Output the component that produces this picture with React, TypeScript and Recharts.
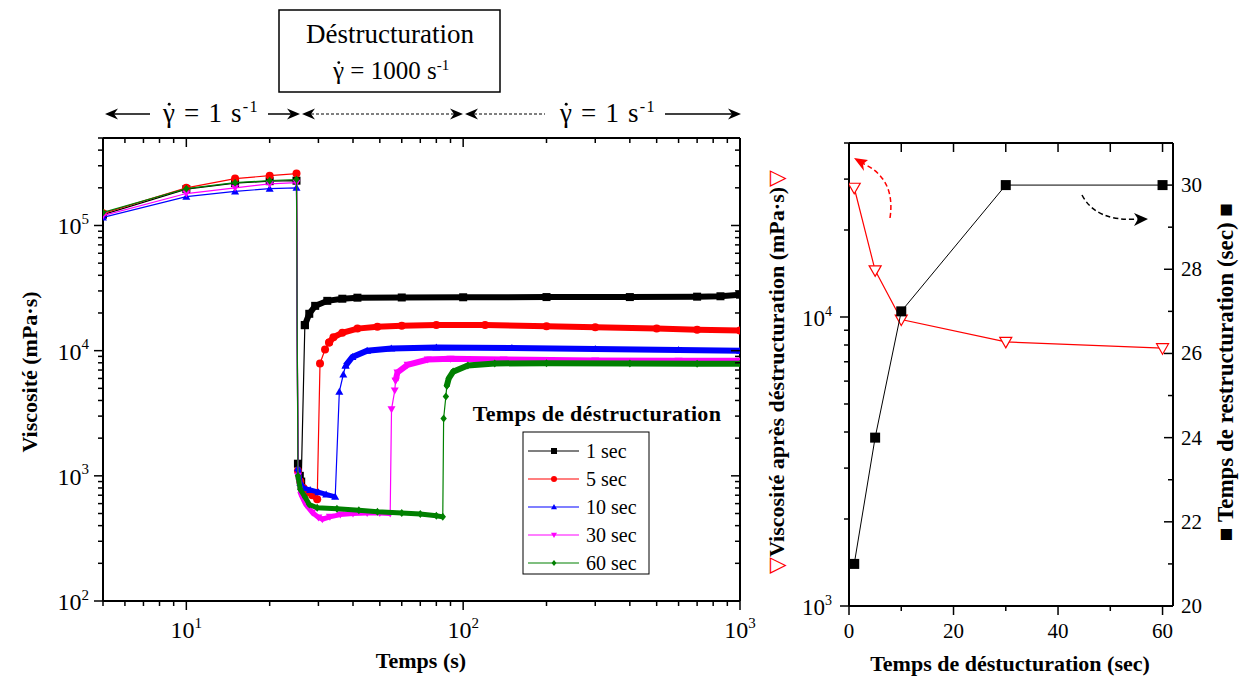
import React from "react";
import { ComposedChart, Scatter, XAxis, YAxis } from "recharts";

const SERIF = '"Liberation Serif", "Times New Roman", serif';

// ---------- panneau gauche : viscosité vs temps ----------
const timeTicks = [5, 6, 7, 8, 9, 10, 20, 30, 40, 50, 60, 70, 80, 90, 100, 200, 300, 400, 500, 600, 700, 800, 900, 1000];
const viscTicks = [
  100, 200, 300, 400, 500, 600, 700, 800, 900,
  1000, 2000, 3000, 4000, 5000, 6000, 7000, 8000, 9000,
  10000, 20000, 30000, 40000, 50000, 60000, 70000, 80000, 90000,
  100000, 200000, 300000, 400000, 500000,
];

const serieNames = ["1 sec", "5 sec", "10 sec", "30 sec", "60 sec"];
const serieColors = ["#000000", "#ff0000", "#0000ff", "#ff00ff", "#008000"];
const serieShapes = ["square", "circle", "up", "down", "diamond"];

// [temps (s), viscosité (mPa·s)] — gamma = 1 s-1 avant déstructuration
const pre1 = [[5, 122000], [10, 195000], [15, 218000], [20, 226000], [25, 228000]];
const pre5 = [[5, 125000], [10, 200000], [15, 237000], [20, 250000], [25, 260000]];
const pre10 = [[5, 116000], [10, 170000], [15, 187000], [20, 197000], [25, 200000]];
const pre30 = [[5, 120000], [10, 180000], [15, 200000], [20, 215000], [25, 220000]];
const pre60 = [[5, 127000], [10, 197000], [15, 220000], [20, 228000], [25, 233000]];

// déstructuration, gamma = 1000 s-1
const des1 = [[25.3, 1250], [25.7, 1000], [26.0, 900]];
const des5 = [[25.3, 1100], [25.8, 900], [26.5, 800], [27.5, 740], [28.5, 700], [29.7, 650]];
const des10 = [[25.3, 1150], [25.8, 880], [26.5, 800], [28, 770], [30, 740], [32, 710], [34.5, 680]];
const des30 = [[25.3, 1000], [26, 700], [27, 590], [28.5, 510], [30, 465], [31, 450], [33, 470], [36, 490], [40, 500], [45, 505], [50, 505], [54.5, 500]];
const des60 = [[25.3, 1000], [25.8, 780], [26.9, 670], [27.8, 590], [29.7, 555], [35, 545], [42, 530], [49, 516], [60, 505], [70, 495], [80, 480], [84.4, 470]];

// remontée (points isolés)
const jmp1 = [[26.8, 16000]];
const jmp5 = [[30.4, 7900], [31.7, 10200], [32.8, 11600]];
const jmp10 = [[35.7, 4700], [36.9, 6450], [37.6, 7600]];
const jmp30 = [[55.1, 3400], [56.6, 4800], [57, 5760]];
const jmp60 = [[85, 2870], [86.6, 4300], [87.3, 5250]];

// restructuration, gamma = 1 s-1
const rec1 = [[26.8, 16000], [27.8, 19700], [29.2, 22800], [32.3, 25000], [36.6, 26000], [41.5, 26500], [60, 26600], [100, 26700], [200, 26800], [400, 26800], [700, 27000], [850, 27200], [1000, 28000]];
const rec5 = [[32.8, 11600], [34, 12800], [36.6, 13900], [41.5, 15000], [49, 15500], [60, 15800], [80, 16000], [120, 16000], [200, 15700], [300, 15400], [500, 15000], [700, 14700], [1000, 14500]];
const rec10 = [[37.6, 7600], [39.8, 8900], [45, 10000], [55, 10400], [80, 10600], [150, 10500], [300, 10300], [600, 10100], [1000, 10000]];
const rec30 = [[57, 5760], [57.9, 6700], [63, 7700], [74.5, 8500], [90, 8600], [140, 8500], [300, 8350], [600, 8300], [1000, 8300]];
const rec60 = [[87.3, 5250], [88.7, 6000], [92, 6800], [104, 7600], [130, 7900], [200, 7950], [400, 7900], [700, 7850], [1000, 7850]];

// ---------- panneau droit ----------
const destTimes = [1, 5, 10, 30, 60];
const viscAfter = [28000, 14500, 9800, 8200, 7800];
const restTimes = [21, 24, 27, 30, 30];
const destTicks = [0, 10, 20, 30, 40, 50, 60];
const destTopTicks = [10, 20, 30, 40, 50, 60];
const viscAfterTicks = [1000, 2000, 3000, 4000, 5000, 6000, 7000, 8000, 9000, 10000, 20000, 30000, 40000];
const restTicks = [20, 21, 22, 23, 24, 25, 26, 27, 28, 29, 30];

const toPts = (a: number[][]) => a.map(([t, v]) => ({ t, v }));
const pres = [pre1, pre5, pre10, pre30, pre60];
const dess = [des1, des5, des10, des30, des60];
const jmps = [jmp1, jmp5, jmp10, jmp30, jmp60];
const recs = [rec1, rec5, rec10, rec30, rec60];

const curves = serieNames.map((name, i) => ({
  name,
  color: serieColors[i],
  shape: serieShapes[i],
  all: toPts([...pres[i], ...dess[i], ...jmps[i], ...recs[i]]),
  des: toPts(dess[i]),
  rec: toPts(recs[i]),
}));

const rightRows = destTimes.map((d, i) => ({ d, visc: viscAfter[i], rest: restTimes[i] }));

function Marker({ kind, cx, cy, size, color, hollow = false }: any) {
  if (cx == null || cy == null) return <g />;
  const h = size / 2;
  const fill = hollow ? "#fff" : color;
  const sw = hollow ? 1.2 : 0;
  switch (kind) {
    case "square":
      return <rect x={cx - h} y={cy - h} width={size} height={size} fill={fill} stroke={color} strokeWidth={sw} />;
    case "circle":
      return <circle cx={cx} cy={cy} r={h} fill={fill} stroke={color} strokeWidth={sw} />;
    case "up":
      return <path d={`M${cx},${cy - h}L${cx + h},${cy + h * 0.75}L${cx - h},${cy + h * 0.75}Z`} fill={fill} stroke={color} strokeWidth={sw} />;
    case "down":
      return <path d={`M${cx},${cy + h}L${cx + h},${cy - h * 0.75}L${cx - h},${cy - h * 0.75}Z`} fill={fill} stroke={color} strokeWidth={sw} />;
    default:
      return <path d={`M${cx},${cy - h}L${cx + h * 0.8},${cy}L${cx},${cy + h}L${cx - h * 0.8},${cy}Z`} fill={fill} stroke={color} strokeWidth={sw} />;
  }
}

const isPow10 = (v: number) => Math.abs(Math.log10(v) - Math.round(Math.log10(v))) < 1e-9;

const powLabel = (v: number, sup: number) => (
  <>
    <tspan>10</tspan>
    <tspan dy={-sup * 0.7} fontSize={sup}>{Math.round(Math.log10(v))}</tspan>
  </>
);

function makeTick(cfg: any) {
  return (p: any) => {
    const { x, y, payload } = p;
    const v = payload.value;
    const major = cfg.isMajor(v);
    const len = major ? cfg.majorLen : cfg.minorLen;
    let dx = 0;
    let dy = 0;
    if (cfg.side === "bottom") dy = cfg.inward ? -len : len;
    if (cfg.side === "top") dy = cfg.inward ? len : -len;
    if (cfg.side === "left") dx = cfg.inward ? len : -len;
    if (cfg.side === "right") dx = cfg.inward ? -len : len;
    let label = null;
    if (major && cfg.label) {
      const fs = cfg.fontSize;
      if (cfg.side === "bottom")
        label = <text x={x} y={y + cfg.offset} textAnchor="middle" fontSize={fs} fontFamily={SERIF} fill="#000">{cfg.label(v)}</text>;
      else if (cfg.side === "left")
        label = <text x={x - cfg.offset} y={y + cfg.dyLabel} textAnchor="end" fontSize={fs} fontFamily={SERIF} fill="#000">{cfg.label(v)}</text>;
      else if (cfg.side === "right")
        label = <text x={x + cfg.offset} y={y + cfg.dyLabel} textAnchor="start" fontSize={fs} fontFamily={SERIF} fill="#000">{cfg.label(v)}</text>;
    }
    return (
      <g>
        <line x1={x} y1={y} x2={x + dx} y2={y + dy} stroke="#000" strokeWidth={1.5} />
        {label}
      </g>
    );
  };
}

const axisLine = { stroke: "#000", strokeWidth: 2 };
const noDot = () => <g />;

function ViscosityChart() {
  return (
    <ComposedChart width={760} height={681} margin={{ top: 128, right: 10, bottom: 40, left: 43 }}>
      <XAxis xAxisId="b" dataKey="t" type="number" scale="log" domain={[5, 1000]} allowDataOverflow ticks={timeTicks} interval={0}
        height={40} tickSize={0} tickMargin={0} tickLine={false} axisLine={axisLine}
        tick={makeTick({ side: "bottom", inward: false, isMajor: isPow10, majorLen: 9, minorLen: 5, offset: 37, fontSize: 24, label: (v: number) => powLabel(v, 15) })} />
      <XAxis xAxisId="t" orientation="top" dataKey="t" type="number" scale="log" domain={[5, 1000]} allowDataOverflow ticks={timeTicks} interval={0}
        height={10} tickSize={0} tickMargin={0} tickLine={false} axisLine={axisLine}
        tick={makeTick({ side: "top", inward: true, isMajor: isPow10, majorLen: 9, minorLen: 5 })} />
      <YAxis yAxisId="l" dataKey="v" type="number" scale="log" domain={[100, 500000]} allowDataOverflow ticks={viscTicks} interval={0}
        width={60} tickSize={0} tickMargin={0} tickLine={false} axisLine={axisLine}
        tick={makeTick({ side: "left", inward: false, isMajor: isPow10, majorLen: 9, minorLen: 5, offset: 14, dyLabel: 9, fontSize: 24, label: (v: number) => powLabel(v, 15) })} />
      <YAxis yAxisId="r" orientation="right" dataKey="v" type="number" scale="log" domain={[100, 500000]} allowDataOverflow ticks={viscTicks} interval={0}
        width={10} tickSize={0} tickMargin={0} tickLine={false} axisLine={axisLine}
        tick={makeTick({ side: "right", inward: true, isMajor: isPow10, majorLen: 9, minorLen: 5 })} />
      {curves.map((c) => [
        <Scatter key={c.name + "-d"} xAxisId="b" yAxisId="l" data={c.des} fill={c.color}
          line={{ stroke: c.color, strokeWidth: 5 }} shape={noDot} isAnimationActive={false} />,
        <Scatter key={c.name + "-r"} xAxisId="b" yAxisId="l" data={c.rec} fill={c.color}
          line={{ stroke: c.color, strokeWidth: 6 }} shape={noDot} isAnimationActive={false} />,
        <Scatter key={c.name + "-a"} name={c.name} xAxisId="b" yAxisId="l" data={c.all} fill={c.color}
          line={{ stroke: c.color, strokeWidth: 1.2 }}
          shape={(p: any) => <Marker kind={c.shape} cx={p.cx} cy={p.cy} size={8} color={c.color} />}
          isAnimationActive={false} />,
      ])}
    </ComposedChart>
  );
}

function RecoveryChart() {
  return (
    <ComposedChart width={484} height={681} margin={{ top: 133, right: 21, bottom: 35, left: 29 }}>
      <XAxis xAxisId="b" dataKey="d" type="number" domain={[0, 62]} allowDataOverflow ticks={destTicks} interval={0}
        height={40} tickSize={0} tickMargin={0} tickLine={false} axisLine={axisLine}
        tick={makeTick({ side: "bottom", inward: false, isMajor: (v: number) => v % 20 === 0, majorLen: 9, minorLen: 5, offset: 32, fontSize: 21, label: (v: number) => v })} />
      <XAxis xAxisId="t" orientation="top" dataKey="d" type="number" domain={[0, 62]} allowDataOverflow ticks={destTopTicks} interval={0}
        height={10} tickSize={0} tickMargin={0} tickLine={false} axisLine={axisLine}
        tick={makeTick({ side: "top", inward: true, isMajor: () => true, majorLen: 9, minorLen: 9 })} />
      <YAxis yAxisId="visc" dataKey="visc" type="number" scale="log" domain={[1000, 40000]} allowDataOverflow ticks={viscAfterTicks} interval={0}
        width={60} tickSize={0} tickMargin={0} tickLine={false} axisLine={axisLine}
        tick={makeTick({ side: "left", inward: false, isMajor: isPow10, majorLen: 9, minorLen: 5, offset: 17, dyLabel: 9, fontSize: 23, label: (v: number) => powLabel(v, 14) })} />
      <YAxis yAxisId="rest" orientation="right" dataKey="rest" type="number" domain={[20, 31]} allowDataOverflow ticks={restTicks} interval={0}
        width={50} tickSize={0} tickMargin={0} tickLine={false} axisLine={axisLine}
        tick={makeTick({ side: "right", inward: true, isMajor: (v: number) => v % 2 === 0, majorLen: 9, minorLen: 5, offset: 8, dyLabel: 7, fontSize: 21, label: (v: number) => v })} />
      <Scatter xAxisId="b" yAxisId="visc" data={rightRows} fill="#ff0000"
        line={{ stroke: "#ff0000", strokeWidth: 1.2 }}
        shape={(p: any) => <Marker kind="down" cx={p.cx} cy={p.cy} size={12} color="#ff0000" hollow />}
        isAnimationActive={false} />
      <Scatter xAxisId="b" yAxisId="rest" data={rightRows} fill="#000"
        line={{ stroke: "#000", strokeWidth: 1 }}
        shape={(p: any) => <Marker kind="square" cx={p.cx} cy={p.cy} size={10} color="#000" />}
        isAnimationActive={false} />
    </ComposedChart>
  );
}

function headR(x: number, y: number) {
  return <path d={`M${x},${y}L${x - 13},${y - 5.5}L${x - 9},${y}L${x - 13},${y + 5.5}Z`} fill="#000" />;
}
function headL(x: number, y: number) {
  return <path d={`M${x},${y}L${x + 13},${y - 5.5}L${x + 9},${y}L${x + 13},${y + 5.5}Z`} fill="#000" />;
}

// γ avec point (dérivée) dessiné au-dessus de la lettre
function Gamma({ x, y, rate, size, spacing = 0 }: any) {
  return (
    <g>
      <text x={x} y={y} fontSize={size} fontFamily={SERIF} fill="#000" letterSpacing={spacing}>
        <tspan>{"γ = " + rate + " s"}</tspan>
        <tspan dy={-size * 0.38} fontSize={size * 0.6}>-1</tspan>
      </text>
      <circle cx={x + size * 0.23} cy={y - size * 0.66} r={size * 0.055} fill="#000" />
    </g>
  );
}

function Overlay() {
  const ry = 114;
  return (
    <svg width={1244} height={681} style={{ position: "absolute", left: 0, top: 0, pointerEvents: "none" }}>
      {/* en-tête */}
      <rect x={279} y={10} width={221} height={82} fill="none" stroke="#000" strokeWidth={1.5} />
      <text x={390} y={43} textAnchor="middle" fontSize={27} fontFamily={SERIF}>Déstructuration</text>
      <Gamma x={333} y={79} rate="1000" size={25} />

      <line x1={112} y1={ry} x2={150} y2={ry} stroke="#000" strokeWidth={1.5} />
      {headL(105, ry)}
      <Gamma x={163} y={122} rate="1" size={27} spacing={1.2} />
      <line x1={268} y1={ry} x2={292} y2={ry} stroke="#000" strokeWidth={1.5} />
      {headR(300, ry)}
      {headL(302, ry)}
      <line x1={311} y1={ry} x2={455} y2={ry} stroke="#000" strokeWidth={1} strokeDasharray="3 2" />
      {headR(463, ry)}
      {headL(465, ry)}
      <line x1={474} y1={ry} x2={545} y2={ry} stroke="#000" strokeWidth={1} strokeDasharray="3 2" />
      <Gamma x={560} y={122} rate="1" size={27} spacing={1.2} />
      <line x1={665} y1={ry} x2={733} y2={ry} stroke="#000" strokeWidth={1.5} />
      {headR(741, ry)}

      {/* titres panneau gauche */}
      <text transform="translate(37,372) rotate(-90)" textAnchor="middle" fontSize={22} fontWeight="bold" fontFamily={SERIF}>Viscosité (mPa·s)</text>
      <text x={421} y={668} textAnchor="middle" fontSize={22} fontWeight="bold" fontFamily={SERIF}>Temps (s)</text>

      {/* légende */}
      <text x={597} y={421} textAnchor="middle" fontSize={22} fontWeight="bold" fontFamily={SERIF} letterSpacing={0.3}>Temps de déstructuration</text>
      <rect x={523} y={432} width={126} height={142} fill="#fff" stroke="#000" strokeWidth={1} />
      {curves.map((c, i) => {
        const yy = 451 + i * 28;
        return (
          <g key={c.name}>
            <line x1={528} y1={yy} x2={579} y2={yy} stroke={c.color} strokeWidth={1.2} />
            <Marker kind={c.shape} cx={554} cy={yy} size={6} color={c.color} />
            <text x={586} y={yy + 7} fontSize={20} fontFamily={SERIF}>{c.name}</text>
          </g>
        );
      })}

      {/* titres panneau droit */}
      <text transform="translate(784,372) rotate(-90)" textAnchor="middle" fontSize={22} fontWeight="bold" fontFamily={SERIF}>
        <tspan fill="#ff0000" fontWeight="normal">▽</tspan>
        <tspan>Viscosité après déstructuration (mPa·s)</tspan>
        <tspan fill="#ff0000" fontWeight="normal">▽</tspan>
      </text>
      <text transform="translate(1233,372) rotate(-90)" textAnchor="middle" fontSize={23} fontWeight="bold" fontFamily={SERIF}>
        <tspan>■ </tspan>
        <tspan>Temps de restructuration (sec)</tspan>
        <tspan> ■</tspan>
      </text>
      <text x={1010} y={671} textAnchor="middle" fontSize={22} fontWeight="bold" fontFamily={SERIF}>Temps de déstucturation (sec)</text>

      {/* flèches */}
      <path d="M890,218 Q896,178 862,163" fill="none" stroke="#ff0000" strokeWidth={1.5} strokeDasharray="5 3" />
      <path d="M854,158 L868,160 L863,164 L864,171 Z" fill="#ff0000" />
      <path d="M1082,195 Q1096,222 1138,219" fill="none" stroke="#000" strokeWidth={1.5} strokeDasharray="5 3" />
      <path d="M1148,219 L1134,213 L1138,219 L1134,226 Z" fill="#000" />
    </svg>
  );
}

export default function App() {
  return (
    <div style={{ position: "absolute", left: 0, top: 0, width: 1244, height: 681, background: "#fff", fontFamily: SERIF }}>
      <div style={{ position: "absolute", left: 0, top: 0 }}>
        <ViscosityChart />
      </div>
      <div style={{ position: "absolute", left: 760, top: 0 }}>
        <RecoveryChart />
      </div>
      <Overlay />
    </div>
  );
}
